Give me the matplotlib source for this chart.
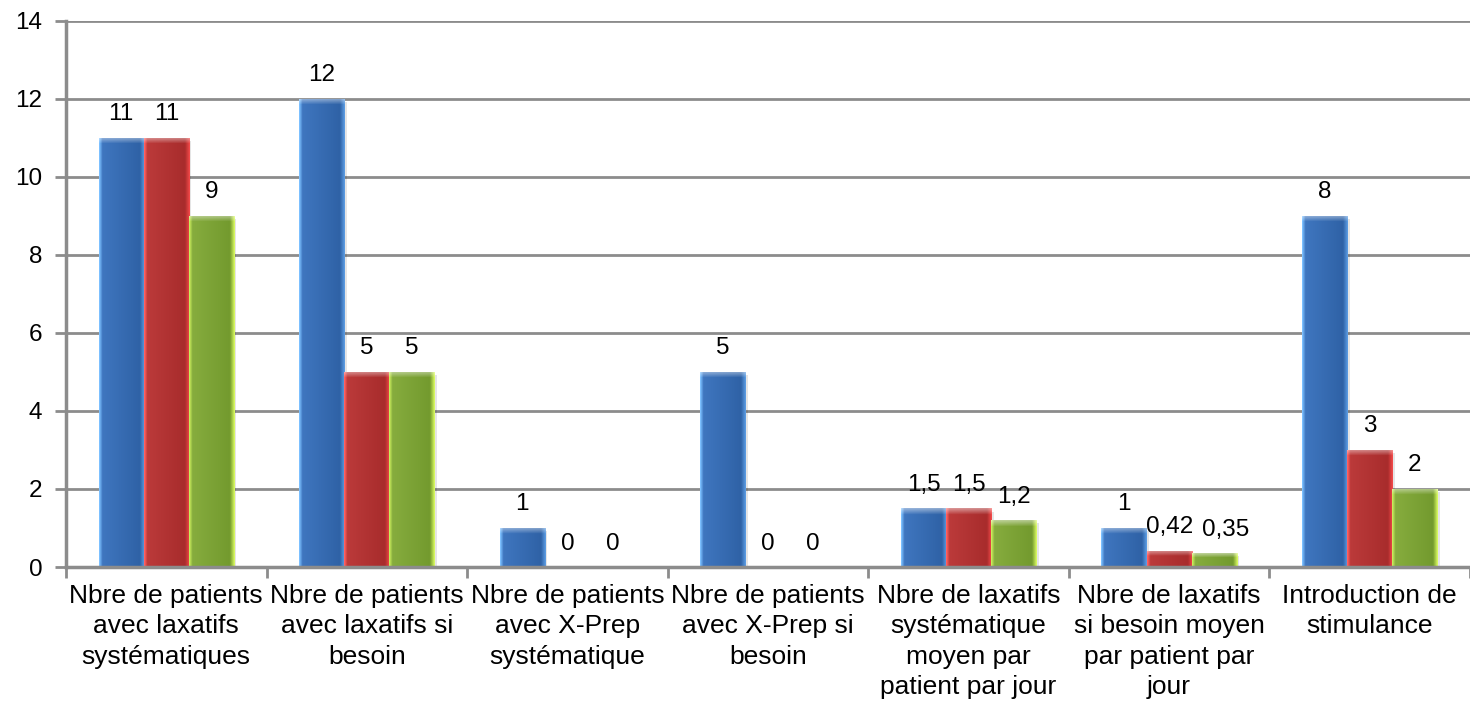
import numpy as np
import matplotlib
matplotlib.use("Agg")
import matplotlib.pyplot as plt
from matplotlib.colors import to_rgb

categories = [
    "Nbre de patients\navec laxatifs\nsystématiques",
    "Nbre de patients\navec laxatifs si\nbesoin",
    "Nbre de patients\navec X-Prep\nsystématique",
    "Nbre de patients\navec X-Prep si\nbesoin",
    "Nbre de laxatifs\nsystématique\nmoyen par\npatient par jour",
    "Nbre de laxatifs\nsi besoin moyen\npar patient par\njour",
    "Introduction de\nstimulance",
]
series_blue = [11, 12, 1, 5, 1.5, 1, 9]
series_red = [11, 5, 0, 0, 1.5, 0.42, 3]
series_green = [9, 5, 0, 0, 1.2, 0.35, 2]
labels_blue = ["11", "12", "1", "5", "1,5", "1", "8"]
labels_red = ["11", "5", "0", "0", "1,5", "0,42", "3"]
labels_green = ["9", "5", "0", "0", "1,2", "0,35", "2"]
yticks = [0, 2, 4, 6, 8, 10, 12, 14]

plt.rcParams['font.family'] = ['Liberation Sans', 'DejaVu Sans']
FS_CAT = 19
FS_NUM = 17.5

fig = plt.figure(figsize=(14.7, 7.04), dpi=100)
ax = fig.add_axes([0.0449, 0.1946, 0.9551, 0.7756])

styles = [
    # light edge, body, dark, right edge
    ("#7cc0ff", "#3f76bf", "#2f62a6", "#5a9ae0"),
    ("#ff6060", "#bb3a3a", "#a82c2c", "#f04848"),
    ("#c8ec5c", "#86ac3e", "#739a2e", "#d6f760"),
]

x = np.arange(len(categories))
w = 0.225
all_series = [series_blue, series_red, series_green]
all_labels = [labels_blue, labels_red, labels_green]


def bar_image(style, npx_w=45, npx_h=100, bevel=6):
    le, body, dark, re = [np.array(to_rgb(c)) for c in style]
    img = np.zeros((npx_h, npx_w, 3))
    for i in range(npx_w):
        t = i / (npx_w - 1)
        if t < 0.07:
            c = le + (body - le) * (t / 0.07)
        elif t < 0.9:
            c = body + (dark - body) * ((t - 0.07) / 0.83)
        else:
            c = dark + (re - dark) * ((t - 0.9) / 0.1)
        img[:, i, :] = c
    b = min(bevel, max(1, npx_h // 3))
    for j in range(b):
        f = 0.45 * (1 - j / b)
        img[j, :, :] = img[j, :, :] + (1 - img[j, :, :]) * f
    return np.clip(img, 0, 1)


px_per_unit = 546 / 14.0
for k, (vals, labs, st) in enumerate(zip(all_series, all_labels, styles)):
    pos = x + (k - 1) * w
    # soft shadow
    ax.bar(pos + 0.012, vals, w, bottom=-0.08, color="#000000", alpha=0.10,
           zorder=2, linewidth=0)
    bars = ax.bar(pos, vals, w, color=st[1], linewidth=0, zorder=3)
    for ci, (p, v, lab) in enumerate(zip(bars, vals, labs)):
        bx, by = p.get_x(), p.get_y()
        bw, bh = p.get_width(), p.get_height()
        if bh > 0:
            hpx = max(2, int(round(bh * px_per_unit)))
            img = bar_image(st, npx_h=hpx)
            im = ax.imshow(img, extent=[bx, bx + bw, by, by + bh],
                           aspect='auto', zorder=4, interpolation='bilinear')
            im.set_clip_path(p)
        dx = 0
        # nudge the crowded small-value label right to avoid overlap
        if k == 2 and ci == 5:
            dx = 8
        ax.annotate(lab, (bx + bw / 2, v), xytext=(dx, 9),
                    textcoords='offset points', ha='center', va='bottom',
                    fontsize=FS_NUM, color='black', zorder=6)

ax.set_xlim(-0.5, len(categories) - 0.5)
ax.set_ylim(0, 14)
ax.set_aspect('auto')

ax.set_yticks(yticks)
ax.set_yticklabels([str(t) for t in yticks], fontsize=FS_NUM)
ax.yaxis.grid(True, color="#8c8c8c", linewidth=2, zorder=1)
ax.set_axisbelow(True)
ax.tick_params(axis='y', length=8, width=2, color="#8c8c8c", pad=9,
               direction='out')

ax.set_xticks(x)
ax.set_xticklabels(categories, fontsize=FS_CAT, linespacing=1.34)
ax.set_xticks(np.arange(-0.5, len(categories), 1.0), minor=True)
ax.tick_params(axis='x', which='major', length=0, pad=12)
ax.tick_params(axis='x', which='minor', length=8, width=2, color="#8c8c8c",
               direction='out')

for s in ['top', 'right']:
    ax.spines[s].set_visible(False)
for s in ['left', 'bottom']:
    ax.spines[s].set_color("#8c8c8c")
    ax.spines[s].set_linewidth(2.5)
    ax.spines[s].set_zorder(5)

fig.savefig("out.png", dpi=100)
